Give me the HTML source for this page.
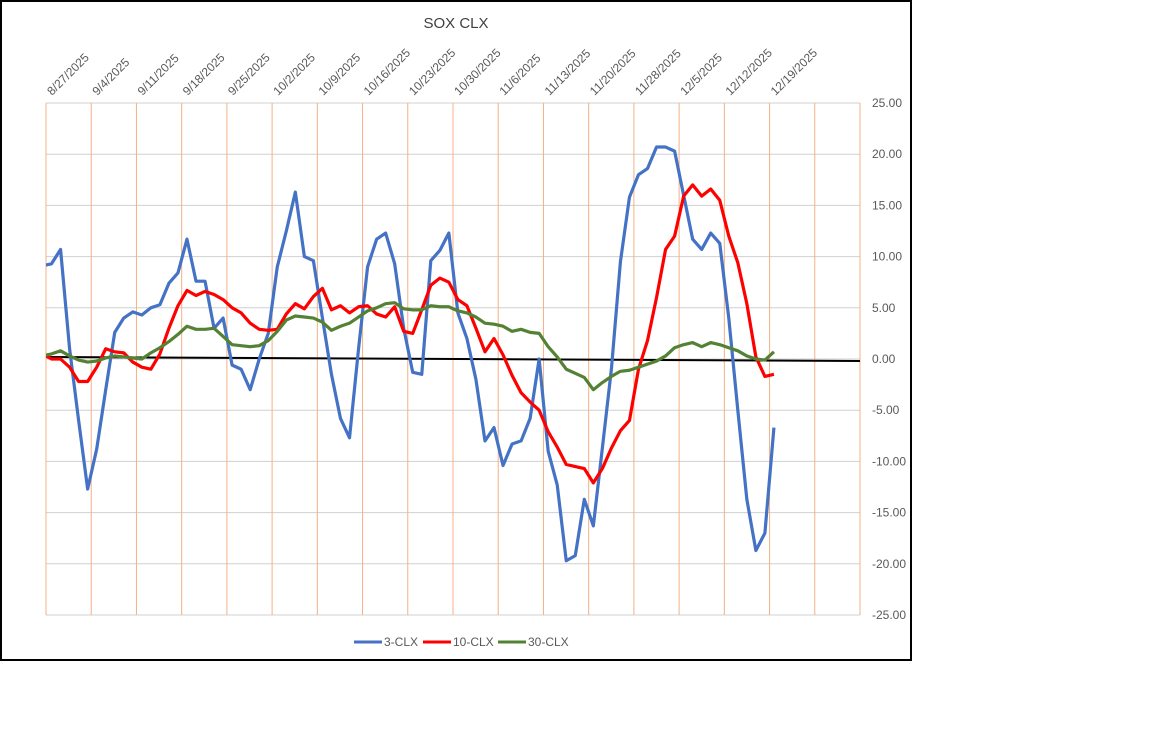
<!DOCTYPE html>
<html><head><meta charset="utf-8"><style>
body{margin:0;background:#fff;width:1152px;height:737px;overflow:hidden;font-family:"Liberation Sans",sans-serif}
</style></head><body>
<svg width="1152" height="737" xmlns="http://www.w3.org/2000/svg">
<rect x="1" y="1" width="910" height="659" fill="#fff" stroke="#000" stroke-width="2"/>
<text x="456" y="28" text-anchor="middle" font-size="15" fill="#404040">SOX CLX</text>
<g id="grid"></g><g id="series"></g><g id="labels"></g>
<g>
<g><line x1="354" y1="642" x2="382" y2="642" stroke="#4472C4" stroke-width="3"/><text x="384" y="646" font-size="12" fill="#595959">3-CLX</text></g>
<g><line x1="423" y1="642" x2="451" y2="642" stroke="#FF0000" stroke-width="3"/><text x="453" y="646" font-size="12" fill="#595959">10-CLX</text></g>
<g><line x1="498" y1="642" x2="526" y2="642" stroke="#548235" stroke-width="3"/><text x="528" y="646" font-size="12" fill="#595959">30-CLX</text></g>
</g>
</svg>
<script>
const dateLabels=["8/27/2025","9/4/2025","9/11/2025","9/18/2025","9/25/2025","10/2/2025","10/9/2025","10/16/2025","10/23/2025","10/30/2025","11/6/2025","11/13/2025","11/20/2025","11/28/2025","12/5/2025","12/12/2025","12/19/2025"];
const yTicks=[25,20,15,10,5,0,-5,-10,-15,-20,-25];
const clx3=[9.1,9.3,10.7,1,-6,-12.7,-8.8,-3,2.6,4,4.6,4.3,5,5.3,7.4,8.4,11.7,7.6,7.6,3,4,-0.6,-1,-3,0,2.5,9,12.5,16.3,10,9.6,4,-1.5,-5.8,-7.7,1,9,11.7,12.3,9.3,3,-1.3,-1.5,9.6,10.6,12.3,4.5,2,-2,-8,-6.7,-10.4,-8.3,-8,-5.8,0,-9,-12.3,-19.7,-19.2,-13.7,-16.3,-8.7,-1,9.5,15.8,18,18.6,20.7,20.7,20.3,16,11.7,10.7,12.3,11.3,4,-5,-13.7,-18.7,-17,-6.7];
const clx10=[0.5,0,0,-0.8,-2.2,-2.2,-0.8,1.0,0.7,0.6,-0.3,-0.8,-1.0,0.5,3.0,5.2,6.7,6.2,6.6,6.3,5.8,5.0,4.5,3.5,2.9,2.8,2.9,4.4,5.4,4.9,6.1,6.9,4.8,5.2,4.5,5.1,5.2,4.4,4.1,5.1,2.7,2.5,4.8,7.2,7.9,7.5,5.8,5.2,3.0,0.7,2.0,0.4,-1.6,-3.3,-4.2,-5.0,-7.1,-8.6,-10.3,-10.5,-10.7,-12.1,-10.7,-8.7,-7.0,-6.0,-1.0,1.8,6.0,10.7,12.0,15.9,17.0,15.9,16.6,15.5,12.0,9.4,5.4,0.2,-1.7,-1.5];
const clx30=[0.3,0.5,0.8,0.3,-0.1,-0.3,-0.2,0.1,0.3,0.2,0.1,0,0.6,1.1,1.7,2.4,3.2,2.9,2.9,3.0,2.2,1.4,1.3,1.2,1.3,1.8,2.7,3.8,4.2,4.1,4.0,3.6,2.8,3.2,3.5,4.1,4.7,5.0,5.4,5.5,4.9,4.8,4.8,5.2,5.1,5.1,4.7,4.5,4.1,3.5,3.4,3.2,2.7,2.9,2.6,2.5,1.2,0.2,-1.0,-1.4,-1.8,-3.0,-2.3,-1.7,-1.2,-1.1,-0.8,-0.5,-0.2,0.3,1.1,1.4,1.6,1.2,1.6,1.4,1.1,0.8,0.3,0,-0.1,0.7];
const trendEnds=[0.2,-0.2];
const L=46,R=860,T=103,B=615;
const y=v=>T+(25-v)*(B-T)/50;
const xi=i=>42.5+9.03*i;
const xg=k=>L+k*(R-L)/18;
const NS="http://www.w3.org/2000/svg";
function mk(tag,attrs,parent){const e=document.createElementNS(NS,tag);for(const k in attrs)e.setAttribute(k,attrs[k]);parent.appendChild(e);return e;}
const grid=document.getElementById('grid'),series=document.getElementById('series'),labels=document.getElementById('labels');
yTicks.forEach(v=>{
 const l=mk('line',{x1:L,x2:R,y1:y(v),y2:y(v),stroke:'#D0D0D0','stroke-width':1},grid);
 
 
 const t=mk('text',{x:872,y:y(v)+4,'font-size':12,fill:'#595959'},labels);
 t.textContent=v.toFixed(2);
 
 
});
for(let k=0;k<=18;k++){
 const l=mk('line',{x1:xg(k),x2:xg(k),y1:T,y2:B,stroke:'#F4B183','stroke-width':1},grid);
 
 
}
dateLabels.forEach((d,k)=>{
 const gx=xg(k)+6,gy=96;
 const t=mk('text',{x:gx,y:gy,'font-size':12,fill:'#595959',transform:`rotate(-45 ${gx} ${gy})`},labels);
 t.textContent=d;
 
 
});
const clip=mk('clipPath',{id:'pc'},series);mk('rect',{x:L,y:T-5,width:R-L,height:B-T+10},clip);
const tl=mk('line',{x1:L,x2:R,y1:y(trendEnds[0]),y2:y(trendEnds[1]),stroke:'#000','stroke-width':2},series);


function drawSeries(arr,color,name){
 const p=mk('polyline',{points:arr.map((v,i)=>xi(i)+','+y(v)).join(' '),fill:'none',stroke:color,'stroke-width':3.2,'stroke-linejoin':'round','clip-path':'url(#pc)'},series);
 
 
}
drawSeries(clx3,'#4472C4','series-3-clx');
drawSeries(clx10,'#FF0000','series-10-clx');
drawSeries(clx30,'#548235','series-30-clx');
</script>
</body></html>
